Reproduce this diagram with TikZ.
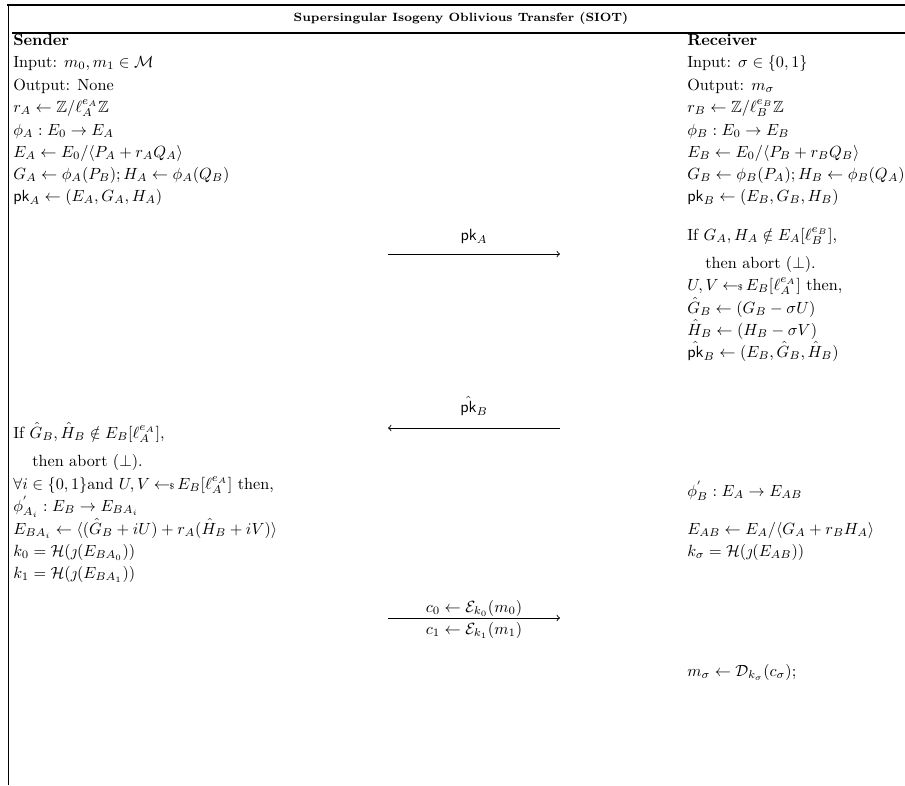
\documentclass[tikz,border=0pt]{standalone}
\usepackage{amsmath,amssymb}
\newcommand{\smpl}{\hskip2.3pt{\gets\!\!\mbox{\tiny${\$}$}}\,}
\begin{document}
\begin{tikzpicture}[x=0.617pt,y=-0.617pt,
  txt/.style={anchor=base west,inner sep=0pt},
  lbl/.style={anchor=base,inner sep=0pt},
  msg/.style={->,line width=0.55pt},
  rule/.style={line width=1.4pt}]
\useasboundingbox (0,0) rectangle (905,785);
% frame
\coordinate (tl) at (7,5);
\coordinate (tr) at (905,5);
\coordinate (hl) at (12,33);
\coordinate (hr) at (905,33);
\coordinate (vt) at (8.5,5);
\coordinate (vb) at (8.5,785);
\draw[rule] (tl) -- (tr);
\draw[rule] (hl) -- (hr);
\draw[line width=1.2pt] (vt) -- (vb);
\node[font=\fontsize{7.4}{9}\selectfont\bfseries] (title) at (461,18) {Supersingular Isogeny Oblivious Transfer (SIOT)};
% sender
\node[txt] (s0) at (13,45) {\textbf{Sender}};
\node[txt] (s1) at (13,67) {Input: $m_0, m_1 \in \mathcal{M}$};
\node[txt] (s2) at (13,90) {Output: None};
\node[txt] (s3) at (13,112) {$r_A \leftarrow \mathbb{Z}/\ell_A^{e_A}\mathbb{Z}$};
\node[txt] (s4) at (13,135) {$\phi_A : E_0 \rightarrow E_A$};
\node[txt] (s5) at (13,157) {$E_A \leftarrow E_0/\langle P_A + r_A Q_A\rangle$};
\node[txt] (s6) at (13,179) {$G_A \leftarrow \phi_A(P_B); H_A \leftarrow \phi_A(Q_B)$};
\node[txt] (s7) at (13,201) {$\mathsf{pk}_A \leftarrow (E_A, G_A, H_A)$};
\node[txt] (s8) at (13,438) {If $\hat{G}_B, \hat{H}_B \notin E_B[\ell_A^{e_A}]$,};
\node[txt] (s9) at (32,466) {then abort $(\perp)$.};
\node[txt] (s10) at (13,489) {$\forall i \in \{0,1\}$and $U,V \smpl E_B[\ell_A^{e_A}]$ then,};
\node[txt] (s11) at (13,511) {$\phi^{'}_{A_i} : E_B \rightarrow E_{BA_i}$};
\node[txt] (s12) at (13,534) {$E_{BA_i} \leftarrow \langle(\hat{G}_B + iU) + r_A(\hat{H}_B + iV)\rangle$};
\node[txt] (s13) at (13,556) {$k_0 = \mathcal{H}(\jmath(E_{BA_0}))$};
\node[txt] (s14) at (13,578) {$k_1 = \mathcal{H}(\jmath(E_{BA_1}))$};
% receiver
\node[txt] (r0) at (687,45) {\textbf{Receiver}};
\node[txt] (r1) at (687,67) {Input: $\sigma \in \{0,1\}$};
\node[txt] (r2) at (687,90) {Output: $m_\sigma$};
\node[txt] (r3) at (687,112) {$r_B \leftarrow \mathbb{Z}/\ell_B^{e_B}\mathbb{Z}$};
\node[txt] (r4) at (687,135) {$\phi_B : E_0 \rightarrow E_B$};
\node[txt] (r5) at (687,157) {$E_B \leftarrow E_0/\langle P_B + r_B Q_B\rangle$};
\node[txt] (r6) at (687,179) {$G_B \leftarrow \phi_B(P_A); H_B \leftarrow \phi_B(Q_A)$};
\node[txt] (r7) at (687,201) {$\mathsf{pk}_B \leftarrow (E_B, G_B, H_B)$};
\node[txt] (r8) at (687,240) {If $G_A, H_A \notin E_A[\ell_B^{e_B}]$,};
\node[txt] (r9) at (705,268) {then abort $(\perp)$.};
\node[txt] (r10) at (687,290) {$U,V \smpl E_B[\ell_A^{e_A}]$ then,};
\node[txt] (r11) at (687,313) {$\hat{G}_B \leftarrow (G_B - \sigma U)$};
\node[txt] (r12) at (687,335) {$\hat{H}_B \leftarrow (H_B - \sigma V)$};
\node[txt] (r13) at (687,357) {$\hat{\mathsf{pk}}_B \leftarrow (E_B, \hat{G}_B, \hat{H}_B)$};
\node[txt] (r14) at (687,496) {$\phi^{'}_B : E_A \rightarrow E_{AB}$};
\node[txt] (r15) at (687,534) {$E_{AB} \leftarrow E_A/\langle G_A + r_B H_A\rangle$};
\node[txt] (r16) at (687,556) {$k_\sigma = \mathcal{H}(\jmath(E_{AB}))$};
\node[txt] (r17) at (687,676) {$m_\sigma \leftarrow \mathcal{D}_{k_\sigma}(c_\sigma)$;};
% messages
\coordinate (m1a) at (388,254);
\coordinate (m1b) at (560,254);
\draw[msg] (m1a) -- (m1b);
\node[lbl] (m1l) at (474,240) {$\mathsf{pk}_A$};
\coordinate (m2a) at (560,428);
\coordinate (m2b) at (388,428);
\draw[msg] (m2a) -- (m2b);
\node[lbl] (m2l) at (474,412) {$\hat{\mathsf{pk}}_B$};
\coordinate (m3a) at (388,618);
\coordinate (m3b) at (560,618);
\draw[msg] (m3a) -- (m3b);
\node[lbl] (m3l) at (474,612) {$c_0 \leftarrow \mathcal{E}_{k_0}(m_0)$};
\node[lbl] (m3m) at (474,634) {$c_1 \leftarrow \mathcal{E}_{k_1}(m_1)$};
\end{tikzpicture}
\end{document}
